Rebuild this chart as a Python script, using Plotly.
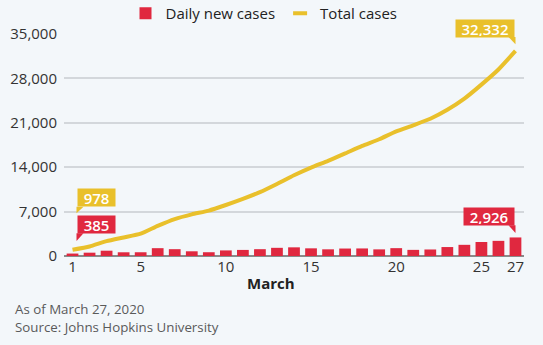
import plotly.graph_objects as go

# ---- data ----
days = list(range(1, 28))
daily_new = [385, 523, 835, 586, 591, 1234, 1076, 743, 595, 881, 958, 1075, 1289,
             1365, 1209, 1053, 1178, 1192, 1046, 1237, 966, 1028, 1411, 1762,
             2206, 2389, 2926]
total_cases = [978, 1501, 2336, 2922, 3513, 4747, 5823, 6566, 7161, 8042, 9000,
               10075, 11364, 12729, 13938, 14991, 16169, 17361, 18407, 19644,
               20610, 21638, 23049, 24811, 27017, 29406, 32332]
x_tick_vals = [1, 5, 10, 15, 20, 25, 27]
y_tick_vals = [0, 7000, 14000, 21000, 28000, 35000]
series_names = ["Daily new cases", "Total cases"]
x_title = "March"
notes = ["As of March 27, 2020", "Source: Johns Hopkins University"]

# ---- style ----
RED = "#E0283F"
YELLOW = "#E9C02B"
BG = "#F3F7FA"
W, H = 543, 345
ML, MR, MT, MB = 64, 19, 34, 89
PW, PH = W - ML - MR, H - MT - MB
FONT = "Open Sans"

fig = go.Figure()
fig.add_trace(go.Bar(x=days, y=daily_new, name=series_names[0],
                     marker=dict(color=RED, line=dict(width=0))))
fig.add_trace(go.Scatter(x=days, y=total_cases, mode="lines", name=series_names[1],
                         line=dict(color=YELLOW, width=4, shape="spline", smoothing=0.5),
                         showlegend=False))
# legend proxy for the line series (short thick dash)
fig.add_trace(go.Scatter(x=[None], y=[None], mode="markers", name=series_names[1],
                         marker=dict(symbol="line-ew", size=10, color=YELLOW,
                                     line=dict(color=YELLOW, width=4))))

# ---- callouts: (series values, index, color, side, box yshift, tail tip shift, box w) ----
callouts = [
    (total_cases, 0, YELLOW, "left", 42.5, 36.5, 35),
    (daily_new, 0, RED, "left", 19.6, 12.6, 35),
    (total_cases, -1, YELLOW, "right", 13.3, 6.7, 56),
    (daily_new, -1, RED, "right", 11.5, 4.5, 48),
]
for vals, idx, col, side, ys, tip, bw in callouts:
    xd = days[idx]
    yd = vals[idx]
    xs = 4 if side == "left" else 0
    fig.add_annotation(x=xd, y=yd, xref="x", yref="y", text=f"{yd:,}",
                       showarrow=False, xanchor=side, yanchor="bottom",
                       xshift=xs, yshift=ys, bgcolor=col, borderpad=1,
                       width=bw, height=15, align="center",
                       font=dict(family=FONT, size=15, color="white", weight=600))
    if side == "left":
        path = f"M {xs} {ys + 0.6} L {xs + 7} {ys + 0.6} L {xs} {tip} Z"
    else:
        path = f"M {xs} {ys + 0.6} L {xs - 7} {ys + 0.6} L {xs} {tip} Z"
    fig.add_shape(type="path", xref="x", yref="y", xsizemode="pixel", ysizemode="pixel",
                  xanchor=xd, yanchor=yd, path=path, fillcolor=col,
                  line=dict(width=0), layer="above")

# ---- text outside plot ----
def px_to_paper_x(px):
    return (px - ML) / PW

def px_to_paper_y(py):
    return (H - MB - py) / PH

fig.add_annotation(text=f"<b>{x_title}</b>", xref="paper", yref="paper",
                   x=px_to_paper_x(270.5), y=px_to_paper_y(283), showarrow=False,
                   xanchor="center", yanchor="middle",
                   font=dict(family=FONT, size=15, color="#222222"))
for i, note in enumerate(notes):
    fig.add_annotation(text=note, xref="paper", yref="paper",
                       x=px_to_paper_x(13), y=px_to_paper_y(309 + 18 * i),
                       showarrow=False, xanchor="left", yanchor="middle",
                       font=dict(family=FONT, size=13.3, color="#5A5A5A"))

fig.update_layout(
    width=W, height=H,
    margin=dict(l=ML, r=MR, t=MT, b=MB, pad=0, autoexpand=False),
    paper_bgcolor=BG, plot_bgcolor=BG,
    font=dict(family=FONT, size=15, color="#333333"),
    bargap=0.31,
    showlegend=True,
    legend=dict(orientation="h", xref="paper", yref="paper",
                x=px_to_paper_x(264), xanchor="center",
                y=px_to_paper_y(-3), yanchor="top",
                font=dict(family=FONT, size=15, color="#222222"),
                bgcolor="rgba(0,0,0,0)", itemclick=False, traceorder="normal"),
    xaxis=dict(range=[0.5, 27.5], tickvals=x_tick_vals, showgrid=False,
               zeroline=False, showline=False, ticks="",
               tickfont=dict(family=FONT, size=15, color="#333333")),
    yaxis=dict(range=[0, 35000], tickvals=y_tick_vals, tickformat=",",
               showgrid=True, gridcolor="#D3D7DB", gridwidth=1.5,
               zeroline=True, zerolinecolor="#8A8A8A", zerolinewidth=1.5,
               showline=False, ticks="", ticklabelstandoff=6,
               tickfont=dict(family=FONT, size=15, color="#333333")),
)

fig.write_html("out.html")
